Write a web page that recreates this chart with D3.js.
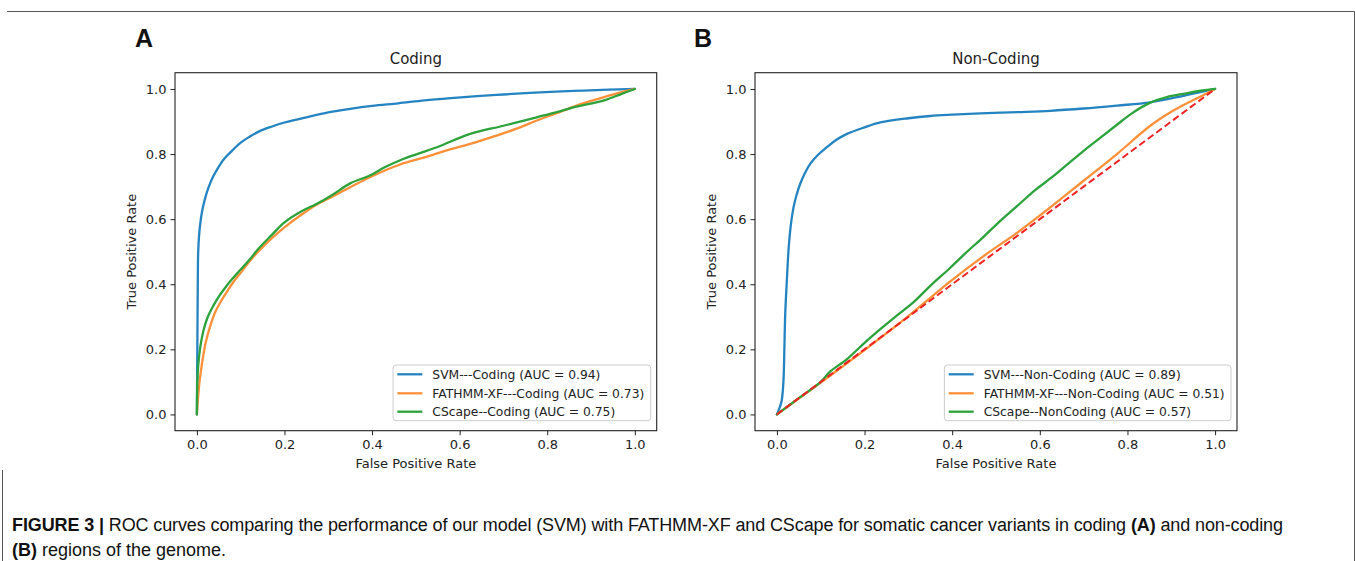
<!DOCTYPE html>
<html>
<head>
<meta charset="utf-8">
<script src="https://cdn.jsdelivr.net/npm/d3@7"></script>
<style>
  html, body { margin: 0; padding: 0; background: #fff; }
  svg { display: block; }
</style>
</head>
<body>
<svg id="chart" width="1355" height="561"></svg>
<script>
// ---------------- DATA ----------------
const tickValues = [0.0, 0.2, 0.4, 0.6, 0.8, 1.0];
const panelTitles = ["Coding", "Non-Coding"];
const panelLetters = ["A", "B"];
const seriesColors = ["#2484c2", "#ff9038", "#2ca33a"];
const diagColor = "#ee2222";

// Panel A: Coding
const codingSvmFpr = [0, 0.001, 0.002, 0.003, 0.005, 0.008, 0.012, 0.018, 0.026, 0.036, 0.048, 0.062, 0.08, 0.1, 0.12, 0.141, 0.17, 0.2, 0.25, 0.3, 0.35, 0.4, 0.46, 0.52, 0.58, 0.64, 0.7, 0.76, 0.82, 0.88, 0.94, 1.0];
const codingSvmTpr = [0, 0.2, 0.4, 0.5, 0.55, 0.59, 0.625, 0.66, 0.695, 0.728, 0.757, 0.785, 0.81, 0.835, 0.853, 0.869, 0.884, 0.897, 0.913, 0.928, 0.939, 0.948, 0.956, 0.965, 0.972, 0.978, 0.983, 0.988, 0.992, 0.995, 0.998, 1.0];
const codingFatFpr = [0, 0.002, 0.006, 0.012, 0.02, 0.03, 0.042, 0.056, 0.07, 0.085, 0.1, 0.12, 0.14, 0.17, 0.2, 0.24, 0.274, 0.31, 0.35, 0.395, 0.464, 0.52, 0.58, 0.624, 0.68, 0.73, 0.776, 0.82, 0.867, 0.928, 0.97, 1.0];
const codingFatTpr = [0, 0.04, 0.1, 0.16, 0.22, 0.27, 0.315, 0.35, 0.38, 0.41, 0.435, 0.47, 0.5, 0.54, 0.575, 0.615, 0.645, 0.67, 0.698, 0.729, 0.768, 0.79, 0.815, 0.831, 0.855, 0.878, 0.903, 0.925, 0.949, 0.974, 0.99, 1.0];
const codingCscFpr = [0, 0.001, 0.003, 0.008, 0.015, 0.025, 0.038, 0.05, 0.065, 0.08, 0.1, 0.12, 0.141, 0.17, 0.2, 0.24, 0.274, 0.31, 0.35, 0.395, 0.43, 0.471, 0.548, 0.624, 0.7, 0.776, 0.82, 0.867, 0.928, 0.97, 1.0];
const codingCscTpr = [0, 0.1, 0.15, 0.21, 0.258, 0.3, 0.335, 0.362, 0.39, 0.415, 0.445, 0.475, 0.51, 0.55, 0.59, 0.625, 0.647, 0.675, 0.71, 0.734, 0.76, 0.785, 0.821, 0.862, 0.887, 0.913, 0.928, 0.946, 0.964, 0.985, 1.0];
const codingLabels = ["SVM---Coding (AUC = 0.94)", "FATHMM-XF---Coding (AUC = 0.73)", "CScape--Coding (AUC = 0.75)"];

// Panel B: Non-Coding
const nonSvmFpr = [0, 0.006, 0.011, 0.015, 0.017, 0.019, 0.023, 0.027, 0.032, 0.038, 0.045, 0.053, 0.064, 0.076, 0.094, 0.114, 0.135, 0.16, 0.2, 0.236, 0.3, 0.35, 0.4, 0.464, 0.55, 0.624, 0.7, 0.776, 0.852, 0.928, 1.0];
const nonSvmTpr = [0, 0.02, 0.043, 0.104, 0.2, 0.309, 0.42, 0.514, 0.585, 0.637, 0.675, 0.708, 0.742, 0.77, 0.798, 0.821, 0.843, 0.862, 0.882, 0.897, 0.91, 0.917, 0.921, 0.925, 0.929, 0.933, 0.94, 0.949, 0.959, 0.979, 1.0];
const nonFatFpr = [0, 0.1, 0.2, 0.3, 0.395, 0.47, 0.548, 0.62, 0.7, 0.776, 0.852, 0.9, 0.928, 0.96, 1.0];
const nonFatTpr = [0, 0.098, 0.198, 0.302, 0.408, 0.485, 0.558, 0.632, 0.718, 0.8, 0.887, 0.93, 0.951, 0.972, 1.0];
const nonCscFpr = [0, 0.05, 0.1, 0.12, 0.16, 0.2, 0.236, 0.27, 0.312, 0.35, 0.395, 0.43, 0.471, 0.51, 0.548, 0.59, 0.624, 0.66, 0.7, 0.74, 0.776, 0.81, 0.852, 0.89, 0.928, 0.96, 1.0];
const nonCscTpr = [0, 0.05, 0.1, 0.13, 0.17, 0.22, 0.262, 0.3, 0.345, 0.395, 0.45, 0.495, 0.545, 0.595, 0.64, 0.69, 0.725, 0.765, 0.81, 0.852, 0.89, 0.925, 0.958, 0.975, 0.985, 0.993, 1.0];
const nonLabels = ["SVM---Non-Coding (AUC = 0.89)", "FATHMM-XF---Non-Coding (AUC = 0.51)", "CScape--NonCoding (AUC = 0.57)"];

const diagFpr = [0, 1];
const diagTpr = [0, 1];

const captionBold1 = "FIGURE 3 |";
const captionText1a = " ROC curves comparing the performance of our model (SVM) with FATHMM-XF and CScape for somatic cancer variants in coding ";
const captionBoldA = "(A)";
const captionText1b = " and non-coding";
const captionBoldB = "(B)";
const captionText2 = " regions of the genome.";

// ---------------- DRAW ----------------
const svg = d3.select("#chart");
const FONT = "'DejaVu Sans', sans-serif";

// outer frame
svg.append("path")
  .attr("d", "M7,11.5 H1354.5 V561")
  .attr("fill", "none").attr("stroke", "#555").attr("stroke-width", 1);
svg.append("path")
  .attr("d", "M2.5,470 V561")
  .attr("fill", "none").attr("stroke", "#555").attr("stroke-width", 1);

const panels = [
  { left: 175, right: 656.7, letterX: 135, title: panelTitles[0], letter: panelLetters[0],
    series: [[codingSvmFpr, codingSvmTpr], [codingFatFpr, codingFatTpr], [codingCscFpr, codingCscTpr]],
    labels: codingLabels, diag: false },
  { left: 755, right: 1237, letterX: 694, title: panelTitles[1], letter: panelLetters[1],
    series: [[nonSvmFpr, nonSvmTpr], [nonFatFpr, nonFatTpr], [nonCscFpr, nonCscTpr]],
    labels: nonLabels, diag: true }
];
const axTop = 72.7, axBottom = 430.7;

panels.forEach(p => {
  const x = d3.scaleLinear().domain([-0.05, 1.05]).range([p.left, p.right]);
  const y = d3.scaleLinear().domain([-0.05, 1.05]).range([axBottom, axTop]);
  const g = svg.append("g");

  const line = d3.line().x(d => x(d[0])).y(d => y(d[1])).curve(d3.curveCatmullRom.alpha(0.5));

  // curves
  p.series.forEach((s, i) => {
    const pts = s[0].map((f, k) => [f, s[1][k]]);
    g.append("path").datum(pts)
      .attr("d", line)
      .attr("fill", "none")
      .attr("stroke", seriesColors[i])
      .attr("stroke-width", 2.3)
      .attr("stroke-linejoin", "round")
      .attr("stroke-linecap", "round");
  });
  if (p.diag) {
    const pts = diagFpr.map((f, k) => [f, diagTpr[k]]);
    g.append("path").datum(pts)
      .attr("d", d3.line().x(d => x(d[0])).y(d => y(d[1])))
      .attr("fill", "none")
      .attr("stroke", diagColor)
      .attr("stroke-width", 2)
      .attr("stroke-dasharray", "7,3.5");
  }

  // axes
  const xAxis = d3.axisBottom(x).tickValues(tickValues).tickFormat(d3.format(".1f")).tickSize(4.5).tickPadding(5);
  const yAxis = d3.axisLeft(y).tickValues(tickValues).tickFormat(d3.format(".1f")).tickSize(4.5).tickPadding(4);
  const gx = svg.append("g").attr("transform", `translate(0,${axBottom})`).call(xAxis);
  const gy = svg.append("g").attr("transform", `translate(${p.left},0)`).call(yAxis);
  [gx, gy].forEach(a => {
    a.select(".domain").remove();
    a.selectAll(".tick line").attr("stroke", "#222").attr("stroke-width", 1);
    a.selectAll(".tick text").attr("fill", "#222").style("font-family", FONT).style("font-size", "13px");
  });

  // spines
  svg.append("rect")
    .attr("x", p.left).attr("y", axTop)
    .attr("width", p.right - p.left).attr("height", axBottom - axTop)
    .attr("fill", "none").attr("stroke", "#222").attr("stroke-width", 1.1);

  // labels
  svg.append("text").attr("x", (p.left + p.right) / 2).attr("y", 467.5)
    .attr("text-anchor", "middle").style("font-family", FONT).style("font-size", "13px").attr("fill", "#222")
    .text("False Positive Rate");
  svg.append("text")
    .attr("transform", `translate(${p.left - 43.3},${(axTop + axBottom) / 2}) rotate(-90)`)
    .attr("text-anchor", "middle").attr("dy", "0.35em")
    .style("font-family", FONT).style("font-size", "13px").attr("fill", "#222")
    .text("True Positive Rate");
  svg.append("text").attr("x", (p.left + p.right) / 2).attr("y", 63.5)
    .attr("text-anchor", "middle").style("font-family", FONT).style("font-size", "15px").attr("fill", "#222")
    .text(p.title);
  svg.append("text").attr("x", p.letterX).attr("y", 47)
    .style("font-family", "'Liberation Sans', Arial, sans-serif").style("font-size", "25px")
    .style("font-weight", "bold").attr("fill", "#111")
    .text(p.letter);

  // legend
  const lg = svg.append("g");
  const boxTop = 365, rowY = [9.3, 28.3, 46.7], boxH = 55.7;
  const box = lg.append("rect").attr("y", boxTop).attr("height", boxH).attr("rx", 3)
    .attr("fill", "#fff").attr("fill-opacity", 0.8).attr("stroke", "#cccccc").attr("stroke-width", 1);
  let maxW = 0;
  const items = p.labels.map((lab, i) => {
    const t = lg.append("text").attr("y", boxTop + rowY[i]).attr("dy", "0.35em")
      .style("font-family", FONT).style("font-size", "12.3px").attr("fill", "#222").text(lab);
    maxW = Math.max(maxW, t.node().getComputedTextLength());
    return t;
  });
  const boxW = 39.3 + maxW + 6.4;
  const boxRight = p.right - 6;
  const boxLeft = boxRight - boxW;
  box.attr("x", boxLeft).attr("width", boxW);
  items.forEach((t, i) => {
    t.attr("x", boxLeft + 39.3);
    lg.append("line")
      .attr("x1", boxLeft + 4.3).attr("x2", boxLeft + 29.3)
      .attr("y1", boxTop + rowY[i]).attr("y2", boxTop + rowY[i])
      .attr("stroke", seriesColors[i]).attr("stroke-width", 2.3);
  });
});

// caption
const CAP = "'Liberation Sans', Arial, sans-serif";
const c1 = svg.append("text").attr("x", 12).attr("y", 531)
  .attr("textLength", 1271).attr("lengthAdjust", "spacing")
  .style("font-family", CAP).style("font-size", "18px").attr("fill", "#111");
c1.append("tspan").style("font-weight", "bold").text(captionBold1);
c1.append("tspan").text(captionText1a);
c1.append("tspan").style("font-weight", "bold").text(captionBoldA);
c1.append("tspan").text(captionText1b);
const c2 = svg.append("text").attr("x", 12).attr("y", 556)
  .style("font-family", CAP).style("font-size", "18px").attr("fill", "#111");
c2.append("tspan").style("font-weight", "bold").text(captionBoldB);
c2.append("tspan").text(captionText2);
</script>
</body>
</html>
